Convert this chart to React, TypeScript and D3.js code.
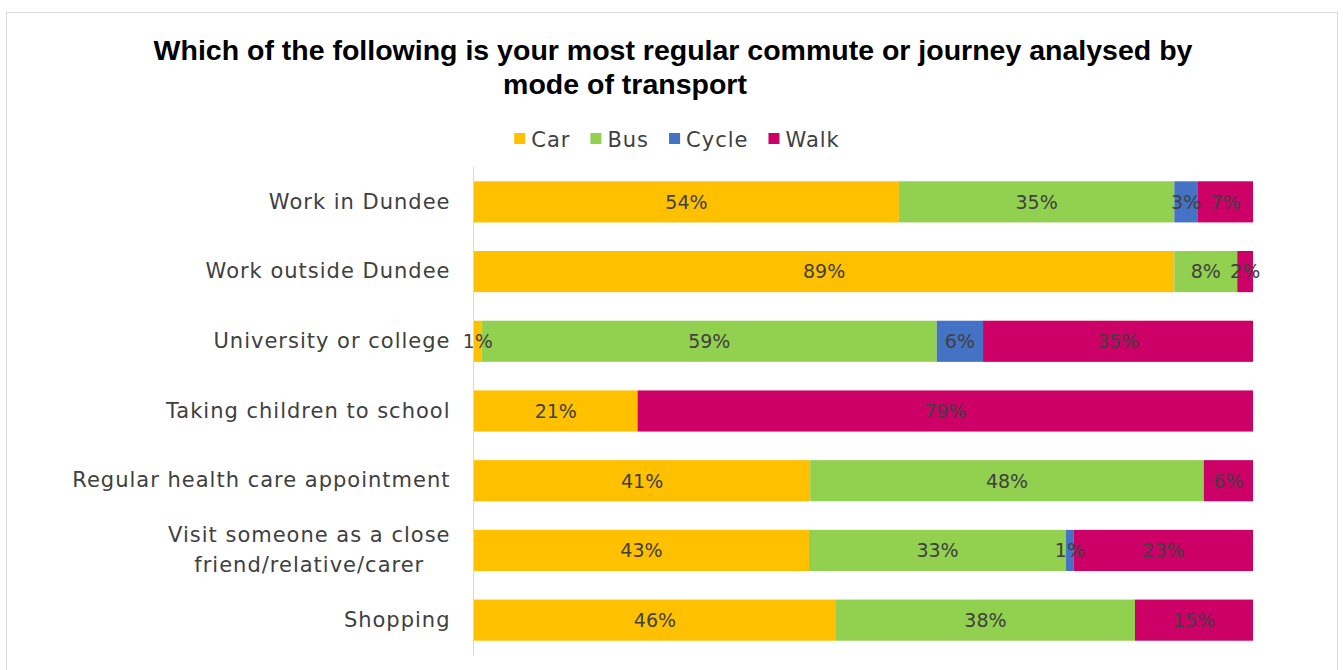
import { useEffect, useRef } from "react";
import * as d3 from "d3";

// journeys (line breaks where the original label wraps)
const categories = [
  "Work in Dundee",
  "Work outside Dundee",
  "University or college",
  "Taking children to school",
  "Regular health care appointment",
  "Visit someone as a close\nfriend/relative/carer",
  "Shopping",
];
const modes = ["Car", "Bus", "Cycle", "Walk"];
const car = [54, 89, 1, 21, 41, 43, 46];
const bus = [35, 8, 59, 0, 48, 33, 38];
const cycle = [3, 0, 6, 0, 0, 1, 0];
const walk = [7, 2, 35, 79, 6, 23, 15];
const modeColors = ["#FFC000", "#92D050", "#4472C4", "#CC0066"];

const titleLines = [
  "Which of the following is your most regular commute or journey analysed by",
  "mode of transport",
];

const W = 1343,
  H = 670;
const margin = { top: 167, right: 90, bottom: 15, left: 474 };
const FONT = "'DejaVu Sans', sans-serif";

function App() {
  const svgRef = useRef<SVGSVGElement>(null);

  useEffect(() => {
    if (!svgRef.current) return;
    const svg = d3.select(svgRef.current);
    svg.selectAll("*").remove();

    // chart frame
    svg
      .append("rect")
      .attr("x", 6.5)
      .attr("y", 12.5)
      .attr("width", 1331)
      .attr("height", 700)
      .attr("fill", "#fff")
      .attr("stroke", "#d9d9d9");

    // title
    const title = svg
      .append("text")
      .attr("font-family", "'Liberation Sans', Arial, sans-serif")
      .attr("font-weight", "bold")
      .attr("font-size", 28.5)
      .attr("fill", "#000")
      .attr("text-anchor", "middle");
    title.append("tspan").attr("x", 673).attr("y", 60).text(titleLines[0]);
    title.append("tspan").attr("x", 625).attr("y", 94).text(titleLines[1]);

    const rows = categories.map((c, i) => {
      const vals = [car[i], bus[i], cycle[i], walk[i]];
      const total = d3.sum(vals);
      let acc = 0;
      return vals.map((v, k) => {
        const x0 = acc / total;
        acc += v;
        return { cat: c, mode: k, value: v, x0, x1: acc / total };
      });
    });

    const x = d3
      .scaleLinear()
      .domain([0, 1])
      .range([margin.left, W - margin.right]);
    const y = d3
      .scaleBand<string>()
      .domain(categories)
      .range([margin.top, H - margin.bottom])
      .paddingInner(0.41)
      .paddingOuter(0.205);

    // bars
    const g = svg.append("g");
    g.selectAll("g.row")
      .data(rows)
      .join("g")
      .attr("class", "row")
      .selectAll("rect")
      .data((d) => d.filter((s) => s.value > 0))
      .join("rect")
      .attr("x", (d) => x(d.x0))
      .attr("y", (d) => y(d.cat)!)
      .attr("width", (d) => x(d.x1) - x(d.x0))
      .attr("height", y.bandwidth())
      .attr("fill", (d) => modeColors[d.mode]);

    // data labels
    g.selectAll("g.lab")
      .data(rows)
      .join("g")
      .attr("class", "lab")
      .selectAll("text")
      .data((d) => d.filter((s) => s.value > 0))
      .join("text")
      .attr("x", (d) => (x(d.x0) + x(d.x1)) / 2)
      .attr("y", (d) => y(d.cat)! + y.bandwidth() / 2)
      .attr("dy", "0.36em")
      .attr("text-anchor", "middle")
      .attr("font-family", FONT)
      .attr("font-size", 19)
      .attr("fill", "#404040")
      .text((d) => d.value + "%");

    // category axis
    const axis = svg
      .append("g")
      .attr("transform", `translate(${margin.left - 0.5},0)`)
      .call(d3.axisLeft(y).tickSize(0).tickPadding(23));
    axis.select(".domain").attr("stroke", "#d9d9d9").attr("d", `M0,${margin.top}V${H - margin.bottom}`);
    axis
      .selectAll<SVGTextElement, string>(".tick text")
      .attr("font-family", FONT)
      .attr("font-size", 21)
      .attr("letter-spacing", 1)
      .attr("fill", "#404040")
      .each(function (d) {
        const lines = d.split("\n");
        if (lines.length < 2) return;
        const t = d3.select(this);
        t.text(null).attr("dy", null).attr("y", null);
        const spans = lines.map((line, i) =>
          t
            .append("tspan")
            .attr("y", (i - (lines.length - 1) / 2) * 30)
            .attr("dy", "0.32em")
            .text(line)
        );
        const widths = spans.map((s) => (s.node() as SVGTSpanElement).getComputedTextLength());
        const maxW = d3.max(widths)!;
        t.attr("text-anchor", "middle");
        spans.forEach((s) => s.attr("x", -23 - maxW / 2));
      });

    // legend
    const legend = svg.append("g");
    const items = legend.selectAll("g").data(modes).join("g");
    items
      .append("rect")
      .attr("width", 11)
      .attr("height", 11)
      .attr("y", -6)
      .attr("fill", (_, i) => modeColors[i]);
    items
      .append("text")
      .attr("x", 17)
      .attr("dy", "0.36em")
      .attr("font-family", FONT)
      .attr("font-size", 21)
      .attr("letter-spacing", 1)
      .attr("fill", "#404040")
      .text((d) => d);
    let off = 0;
    items.each(function () {
      const gi = d3.select(this);
      const tw = (gi.select("text").node() as SVGTextElement).getComputedTextLength();
      gi.attr("transform", `translate(${off},0)`);
      off += 17 + tw + 20;
    });
    const legendW = off - 20;
    legend.attr("transform", `translate(${677 - legendW / 2},139)`);
  }, []);

  return (
    <svg
      ref={svgRef}
      width={W}
      height={H}
      style={{ position: "absolute", left: 0, top: 0, display: "block" }}
    />
  );
}

export default App;
